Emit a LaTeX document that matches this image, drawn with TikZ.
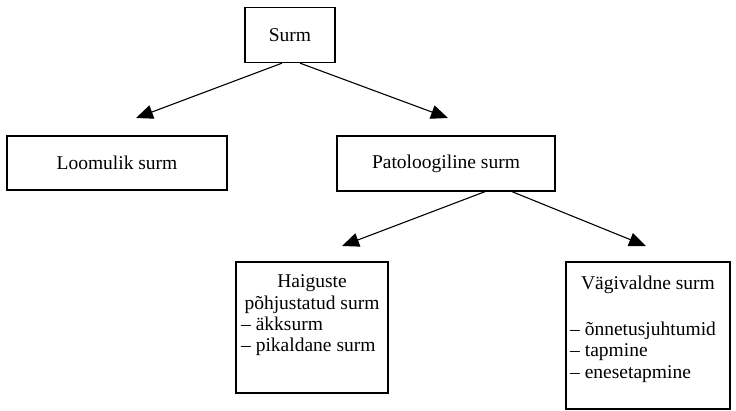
\documentclass[tikz,border=0pt]{standalone}
\usepackage{fontspec}
\setmainfont{Liberation Serif}
\usetikzlibrary{arrows.meta}
\begin{document}
\begin{tikzpicture}[x=1pt,y=-1pt,
  box/.style={draw=black,line width=1.3pt,inner sep=0pt},
  txt/.style={inner sep=0pt,font=\fontsize{19.5}{21.5}\selectfont},
  arr/.style={line width=1.1pt,-{Triangle[length=17pt,width=14pt]}}]
\useasboundingbox (0,0) rectangle (736,411);
% boxes
\node[box,minimum width=90pt,minimum height=55pt] (surm) at (290,35) {};
\node[box,minimum width=220pt,minimum height=54pt] (loom) at (117,163) {};
\node[box,minimum width=218pt,minimum height=55pt] (pato) at (446,163.5) {};
\node[box,minimum width=152pt,minimum height=131pt] (haig) at (312,327.5) {};
\node[box,minimum width=164pt,minimum height=147pt] (vagi) at (648,335.5) {};
% texts
\node[txt] (t1) at (surm.center) {Surm};
\node[txt] (t2) at (loom.center) {Loomulik surm};
\node[txt] (t3) at (pato.center) {Patoloogiline surm};
\node[txt,anchor=base] (t4) at (312,288) {Haiguste};
\node[txt,anchor=base] (t5) at (312,310) {põhjustatud surm};
\node[txt,anchor=base west] (t6) at (241,331) {– äkksurm};
\node[txt,anchor=base west] (t7) at (241,352) {– pikaldane surm};
\node[txt,anchor=base] (t8) at (648,290) {Vägivaldne surm};
\node[txt,anchor=base west] (t9) at (570,336) {– õnnetusjuhtumid};
\node[txt,anchor=base west] (t10) at (570,357) {– tapmine};
\node[txt,anchor=base west] (t11) at (570,378) {– enesetapmine};
% arrow ends
\coordinate (e1) at (136,118);
\coordinate (e2) at (448,118);
\coordinate (e3) at (342,246);
\coordinate (e4) at (646,246);
\draw[arr] ([xshift=-8pt]surm.south) -- (e1);
\draw[arr] ([xshift=10pt]surm.south) -- (e2);
\draw[arr] ([xshift=39pt]pato.south) -- (e3);
\draw[arr] ([xshift=66pt]pato.south) -- (e4);
\end{tikzpicture}
\end{document}
